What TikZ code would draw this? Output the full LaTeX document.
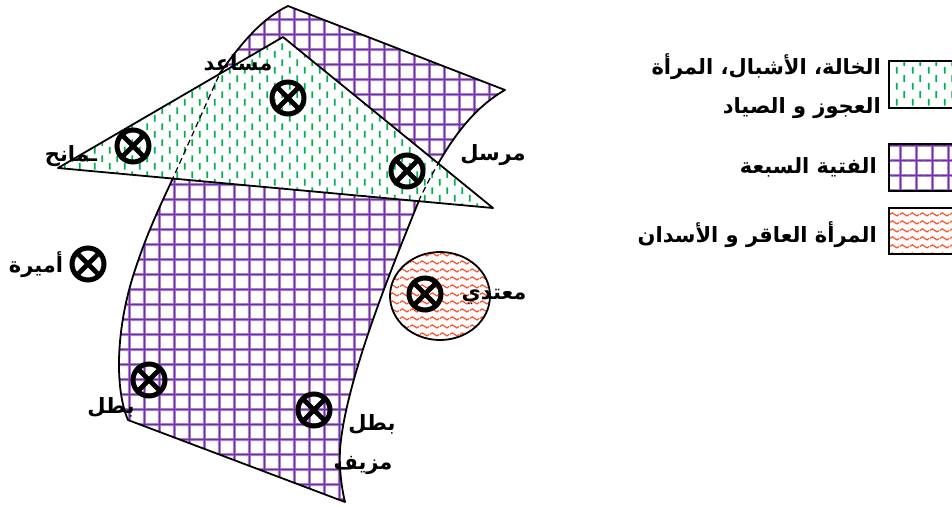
\documentclass[tikz,border=0pt]{standalone}
\usepackage{fontspec}
\newfontfamily\arabicfont[Script=Arabic]{DejaVu Sans}
\TeXXeTstate=1
\usetikzlibrary{patterns}

\definecolor{gridpurple}{RGB}{112,48,160}
\definecolor{gridlight}{RGB}{178,140,214}
\definecolor{dashgreen}{RGB}{0,176,80}
\definecolor{waveorange}{RGB}{255,78,40}

\pgfdeclarepatterninherentlycolored{gridsq}{\pgfqpoint{0pt}{0pt}}{\pgfqpoint{15.4pt}{15.4pt}}{\pgfqpoint{15.4pt}{15.4pt}}{%
  \pgfsetlinewidth{3pt}\pgfsetstrokecolor{gridlight}%
  \pgfpathmoveto{\pgfqpoint{0pt}{7.7pt}}\pgfpathlineto{\pgfqpoint{15.4pt}{7.7pt}}%
  \pgfpathmoveto{\pgfqpoint{7.7pt}{0pt}}\pgfpathlineto{\pgfqpoint{7.7pt}{15.4pt}}%
  \pgfusepath{stroke}%
  \pgfsetlinewidth{1.2pt}\pgfsetstrokecolor{gridpurple}%
  \pgfpathmoveto{\pgfqpoint{0pt}{7.7pt}}\pgfpathlineto{\pgfqpoint{15.4pt}{7.7pt}}%
  \pgfpathmoveto{\pgfqpoint{7.7pt}{0pt}}\pgfpathlineto{\pgfqpoint{7.7pt}{15.4pt}}%
  \pgfusepath{stroke}}
\pgfdeclarepatternformonly{vdashes}{\pgfqpoint{0pt}{0pt}}{\pgfqpoint{15.4pt}{16pt}}{\pgfqpoint{15.4pt}{16pt}}{%
  \pgfsetlinewidth{1.8pt}%
  \pgfpathmoveto{\pgfqpoint{3.85pt}{0.5pt}}\pgfpathlineto{\pgfqpoint{3.85pt}{7.5pt}}%
  \pgfpathmoveto{\pgfqpoint{11.55pt}{8.5pt}}\pgfpathlineto{\pgfqpoint{11.55pt}{15.5pt}}%
  \pgfusepath{stroke}}
\pgfdeclarepatternformonly{wavelines}{\pgfqpoint{0pt}{0pt}}{\pgfqpoint{10pt}{8pt}}{\pgfqpoint{10pt}{8pt}}{%
  \pgfsetlinewidth{1.3pt}%
  \pgfpathmoveto{\pgfqpoint{0pt}{4pt}}%
  \pgfpathcurveto{\pgfqpoint{1.6pt}{6.2pt}}{\pgfqpoint{3.4pt}{6.2pt}}{\pgfqpoint{5pt}{4pt}}%
  \pgfpathcurveto{\pgfqpoint{6.6pt}{1.8pt}}{\pgfqpoint{8.4pt}{1.8pt}}{\pgfqpoint{10pt}{4pt}}%
  \pgfusepath{stroke}}

\newcommand\purplepath{(288,6) -- (505,90)
  .. controls (470,110) and (446,145) .. (420,198)
  .. controls (395,260) and (345,380) .. (340,450)
  .. controls (339,470) and (342,490) .. (345,502)
  -- (128,420)
  .. controls (115,390) and (115,330) .. (135,270)
  .. controls (148,230) and (163,200) .. (173,178)
  -- (220,73)
  .. controls (240,45) and (262,18) .. (288,6) -- cycle}
\newcommand\trianglepath{(58,168) -- (283,37) -- (493,208) -- cycle}

\tikzset{
  outline/.style={draw=black, line width=1.8pt, line join=round},
  gridfill/.style={pattern=gridsq},
  dashfill/.style={pattern=vdashes, pattern color=dashgreen},
  wavefill/.style={pattern=wavelines, pattern color=waveorange},
  lbl/.style={font=\arabicfont\bfseries\fontsize{21}{24}\selectfont, inner sep=0pt},
  xmark/.style={circle, draw=black, line width=5pt, minimum size=32pt, inner sep=0pt,
    path picture={\draw[line width=4.8pt]
      (path picture bounding box.north west) -- (path picture bounding box.south east)
      (path picture bounding box.north east) -- (path picture bounding box.south west);}},
  legbox/.style={draw=black, line width=1.8pt, minimum width=66pt, inner sep=0pt, anchor=north west}
}

\begin{document}
\begin{tikzpicture}[x=1pt, y=-1pt]
\useasboundingbox (0,0) rectangle (952,506);

% purple region (seven young men)
\fill[white] \purplepath;
\fill[gridfill] \purplepath;
\draw[outline] \purplepath;

% green triangle on top
\fill[white] \trianglepath;
\fill[dashfill] \trianglepath;
\begin{scope}
  \clip \trianglepath;
  \draw[black, line width=1.2pt, dash pattern=on 6pt off 4pt] \purplepath;
\end{scope}
\draw[outline] \trianglepath;

% orange ellipse
\fill[white] (440,296) ellipse [x radius=50, y radius=44];
\fill[wavefill] (440,296) ellipse [x radius=50, y radius=44];
\draw[outline] (440,296) ellipse [x radius=50, y radius=44];

% crossed circles
\node[xmark] (x1) at (288,98) {};
\node[xmark] (x2) at (133,146) {};
\node[xmark] (x3) at (407,171) {};
\node[xmark] (x4) at (88,264) {};
\node[xmark] (x5) at (425,294) {};
\node[xmark] (x6) at (149,380) {};
\node[xmark] (x7) at (314,410) {};

% labels
\node[lbl] (musaid) at (238,63) {\beginR مساعد\endR};
\node[lbl] (manih) at (71,156) {\beginR ـمانح\endR};
\node[lbl] (mursil) at (493,155) {\beginR مرسل\endR};
\node[lbl] (amira) at (36,265) {\beginR أميرة\endR};
\node[lbl] (mutadi) at (494,297) {\beginR معتدي\endR};
\node[lbl] (batal1) at (111,407) {\beginR بطل\endR};
\node[lbl] (batal2) at (372,424) {\beginR بطل\endR};
\node[lbl] (muzayyaf) at (363,465) {\beginR مزيف\endR};

% legend
\node[legbox, minimum height=47pt, dashfill] (leg1) at (888,60) {};
\node[legbox, minimum height=47pt, gridfill] (leg2) at (888,143) {};
\node[legbox, minimum height=46pt, wavefill] (leg3) at (888,207) {};
\node[lbl, anchor=east] (leg1a) at (881,67) {\beginR الخالة، الأشبال، المرأة\endR};
\node[lbl, anchor=east] (leg1b) at (881,108) {\beginR العجوز و الصياد\endR};
\node[lbl, anchor=east] (leg2a) at (877,167) {\beginR الفتية السبعة\endR};
\node[lbl, anchor=east] (leg3a) at (877,235) {\beginR المرأة العاقر و الأسدان\endR};
\end{tikzpicture}
\end{document}
